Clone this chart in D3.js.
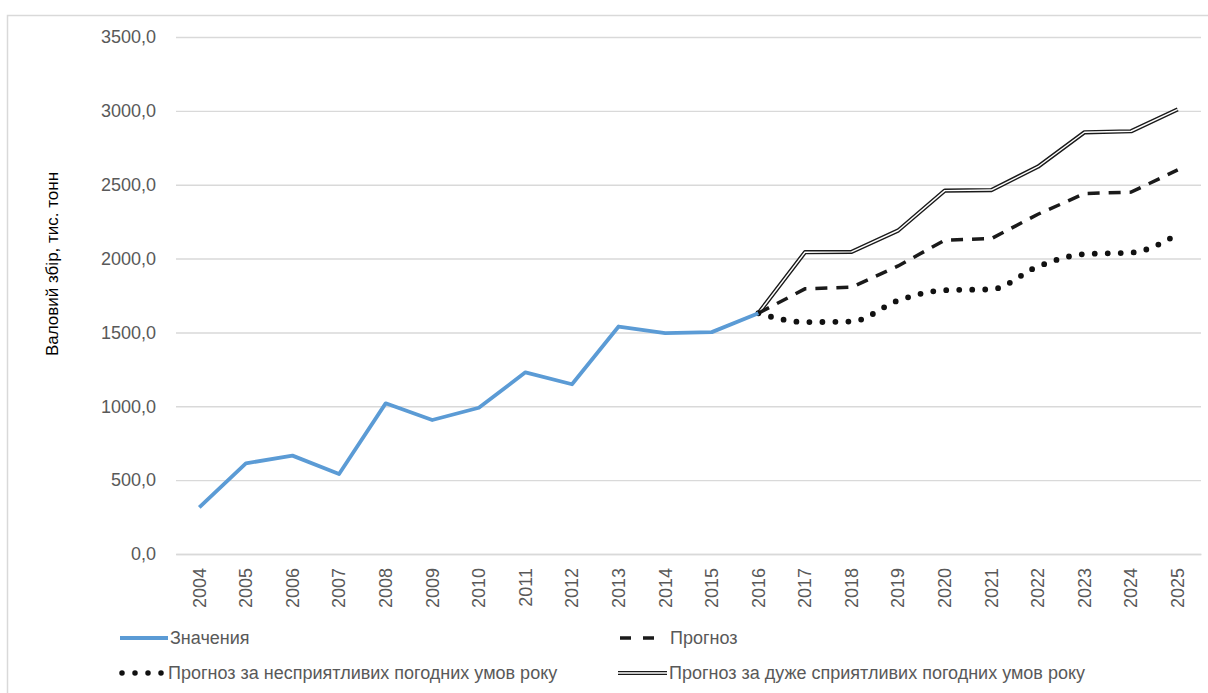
<!DOCTYPE html>
<html>
<head>
  <meta charset="utf-8">
  <title>Валовий збір</title>
  <script src="https://cdn.jsdelivr.net/npm/d3@7"></script>
  <style>
    body { margin: 0; background: #fff; }
    text { font-family: "Liberation Sans", Arial, sans-serif; }
  </style>
</head>
<body>
  <svg width="1208" height="693" id="mainsvg"></svg>
  <script>
    // data
    const years = d3.range(2004, 2026).map(String);
    const histYears = years.slice(0, 13);            // 2004..2016
    const forecastYears = years.slice(12);           // 2016..2025
    const values = [315, 614, 666, 542, 1020, 907, 990, 1230, 1149, 1540, 1495, 1502, 1630];
    const forecast = [1630, 1795, 1806, 1950, 2125, 2135, 2300, 2440, 2450, 2600];
    const forecastBad = [1630, 1570, 1574, 1716, 1786, 1792, 1946, 2030, 2040, 2165];
    const forecastGood = [1630, 2043, 2045, 2190, 2460, 2464, 2622, 2855, 2862, 3010];
    const yTicks = [0, 500, 1000, 1500, 2000, 2500, 3000, 3500];
    const legendLabels = ['Значения', 'Прогноз', 'Прогноз за несприятливих погодних умов року', 'Прогноз за дуже сприятливих погодних умов року'];

    const svg = d3.select('svg');
    const margin = {top: 37, left: 176, right: 7, bottom: 139};
    const width = +svg.attr('width');
    const height = +svg.attr('height');
    const innerWidth = width - margin.left - margin.right;
    const innerHeight = 554 - margin.top;

    // chart border
    svg.append('rect').attr('x', 7.5).attr('y', 15.5).attr('width', 1215).attr('height', 700)
      .attr('fill', 'none').attr('stroke', '#d9d9d9').attr('stroke-width', 1.5);

    const g = svg.append('g').attr('transform', `translate(${margin.left}, ${margin.top})`);

    const xScale = d3.scaleBand().domain(years).range([0, innerWidth]).padding(0);
    const yScale = d3.scaleLinear().domain([0, 3500]).range([innerHeight, 0]);
    const xPos = d => xScale(d) + xScale.bandwidth() / 2;
    const fmt = v => d3.format('.1f')(v).replace('.', ',');

    // y axis with gridlines
    const yAxis = d3.axisLeft(yScale).tickValues(yTicks).tickFormat(fmt)
      .tickSize(-innerWidth).tickPadding(20);
    const yAxisGroup = g.append('g').call(yAxis);
    yAxisGroup.select('.domain').remove();
    yAxisGroup.selectAll('.tick line').attr('stroke', '#d9d9d9').attr('stroke-width', 1.4);
    yAxisGroup.selectAll('.tick text').attr('font-size', 18).attr('fill', '#595959')
      .attr('font-family', '"Liberation Sans", Arial, sans-serif');

    // x axis
    const xAxis = d3.axisBottom(xScale).tickSize(0);
    const xAxisGroup = g.append('g').attr('transform', `translate(0, ${innerHeight})`).call(xAxis);
    xAxisGroup.select('.domain').attr('stroke', '#d9d9d9').attr('stroke-width', 1.4);
    xAxisGroup.selectAll('.tick text')
      .attr('font-size', 18).attr('fill', '#595959')
      .attr('font-family', '"Liberation Sans", Arial, sans-serif')
      .attr('text-anchor', 'end')
      .attr('transform', 'rotate(-90)')
      .attr('x', -14).attr('y', 0).attr('dy', '0.35em');

    // y axis title
    svg.append('text').text('Валовий збір, тис. тонн')
      .attr('transform', 'translate(58, 264) rotate(-90)')
      .attr('text-anchor', 'middle').attr('font-size', 17).attr('fill', '#000');

    // lines
    const lineLinear = d3.line().x(d => xPos(d[0])).y(d => yScale(d[1]));
    const lineSmooth = d3.line().x(d => xPos(d[0])).y(d => yScale(d[1])).curve(d3.curveMonotoneX);
    const zip = (ks, vs) => ks.map((k, i) => [k, vs[i]]);

    // very favourable: double line
    g.append('path').datum(zip(forecastYears, forecastGood)).attr('d', lineLinear)
      .attr('fill', 'none').attr('stroke', '#1a1a1a').attr('stroke-width', 4.2).attr('stroke-linejoin', 'round');
    g.append('path').datum(zip(forecastYears, forecastGood)).attr('d', lineLinear)
      .attr('fill', 'none').attr('stroke', '#fff').attr('stroke-width', 1.4).attr('stroke-linejoin', 'round');

    // forecast: dashed
    g.append('path').datum(zip(forecastYears, forecast)).attr('d', lineLinear)
      .attr('fill', 'none').attr('stroke', '#1a1a1a').attr('stroke-width', 3.5)
      .attr('stroke-dasharray', '12,9');

    // unfavourable: dotted
    g.append('path').datum(zip(forecastYears, forecastBad)).attr('d', lineSmooth)
      .attr('fill', 'none').attr('stroke', '#111').attr('stroke-width', 5.8)
      .attr('stroke-linecap', 'round').attr('stroke-dasharray', '0,13');

    // historical values
    g.append('path').datum(zip(histYears, values)).attr('d', lineLinear)
      .attr('fill', 'none').attr('stroke', '#5b9bd5').attr('stroke-width', 3.8)
      .attr('stroke-linejoin', 'round');

    // legend
    const legend = svg.append('g');
    const items = [
      {x: 120, y: 638, w: 48, label: legendLabels[0], type: 'solid'},
      {x: 620, y: 638, w: 38, label: legendLabels[1], type: 'dash'},
      {x: 120, y: 673, w: 46, label: legendLabels[2], type: 'dot'},
      {x: 618, y: 673, w: 49, label: legendLabels[3], type: 'double'}
    ];
    items.forEach(it => {
      const ln = (stroke, sw) => legend.append('line')
        .attr('x1', it.x).attr('x2', it.x + it.w).attr('y1', it.y).attr('y2', it.y)
        .attr('stroke', stroke).attr('stroke-width', sw);
      if (it.type === 'solid') ln('#5b9bd5', 3.8);
      if (it.type === 'dash') ln('#1a1a1a', 3.5).attr('stroke-dasharray', '11,12');
      if (it.type === 'dot') ln('#111', 5.5).attr('stroke-linecap', 'round').attr('stroke-dasharray', '0,13')
        .attr('x1', it.x + 2);
      if (it.type === 'double') { ln('#1a1a1a', 4.2); ln('#fff', 1.4); }
      legend.append('text').text(it.label)
        .attr('x', it.type === 'dash' ? it.x + 50 : it.x + it.w + 2).attr('y', it.y).attr('dy', '0.35em')
        .attr('font-size', 18).attr('fill', '#595959');
    });
  </script>
</body>
</html>
